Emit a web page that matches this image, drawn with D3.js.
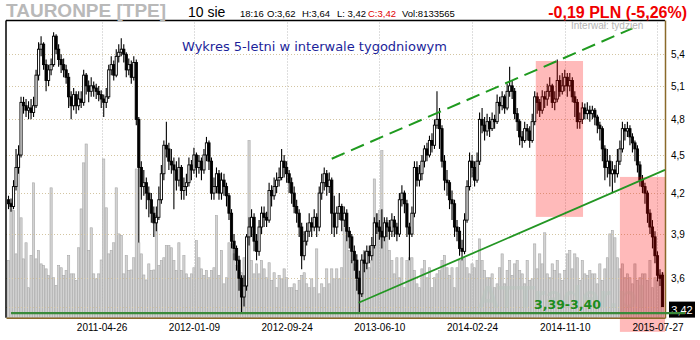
<!DOCTYPE html>
<html>
<head>
<meta charset="utf-8">
<title>TAURONPE [TPE] - wykres tygodniowy</title>
<script src="https://d3js.org/d3.v7.min.js"></script>
<style>
	body { margin: 0; background: #fff; }
	svg { display: block; font-family: "Liberation Sans", Arial, sans-serif; }
	.grid-h { stroke: #d3c5a2; stroke-dasharray: 1,2; }
	.grid-v { stroke: #bcbcbc; stroke-dasharray: 1,2; }
	.axis text { fill: #000; font-size: 10px; font-family: "Liberation Sans", Arial, sans-serif; }
	.axis .domain { stroke: #8a6a2a; stroke-width: 1.5px; }
	.vol { fill: #d3d3d3; stroke: #a8a8a8; stroke-width: 0.6px; }
	.wick { stroke: #000; stroke-width: 1.1px; }
	.body { stroke: #000; stroke-width: 0.9px; }
	.info { font-size: 9.5px; fill: #000; }
</style>
</head>
<body>
<svg id="chart" width="700" height="340"></svg>
<script>
// weekly candles, first one on 2010-08-09
var firstWeek = "2010-08-09";
var xDomain = ["2010-08-02", "2015-08-17"];
var dateTicks = ["2011-04-26", "2012-01-09", "2012-09-24", "2013-06-10", "2014-02-24", "2014-11-10", "2015-07-27"];
var priceTicks = [3.6, 3.9, 4.2, 4.5, 4.8, 5.1, 5.4];
var lastPrice = 3.42;

var opens = [
	4.15,4.12,4.10,4.25,4.40,4.50,4.95,4.92,4.88,4.90,
	4.86,4.92,5.20,5.45,5.50,5.30,5.15,5.25,5.30,5.58,
	5.45,5.35,5.30,5.25,5.18,5.00,4.92,5.02,4.92,4.98,
	4.95,5.20,5.10,5.05,5.10,5.08,5.05,5.02,4.98,4.95,
	5.00,5.25,5.30,5.20,5.38,5.42,5.45,5.40,5.25,5.30,
	5.18,5.32,4.80,4.40,4.25,4.28,4.20,4.15,4.05,3.98,
	4.02,4.15,4.35,4.58,4.55,4.45,4.42,4.38,4.30,4.40,
	4.22,4.25,4.28,4.42,4.38,4.50,4.40,4.45,4.38,4.50,
	4.60,4.45,4.20,4.25,4.35,4.20,4.30,4.25,4.18,4.05,
	3.85,3.80,3.72,3.60,3.48,3.55,3.88,3.95,4.02,3.85,
	3.78,3.95,4.05,4.02,4.00,4.22,4.18,4.25,4.30,4.32,
	4.45,4.40,4.35,4.28,4.20,4.10,4.05,3.95,3.75,3.85,
	3.92,3.98,3.95,4.02,3.95,4.20,4.28,4.35,4.25,4.30,
	4.05,3.95,4.05,4.10,4.00,4.05,3.92,3.88,3.78,3.72,
	3.60,3.50,3.72,3.70,3.78,3.75,3.82,3.98,3.95,3.92,
	3.88,3.98,3.95,3.92,4.00,3.95,3.90,4.15,4.20,4.12,
	3.95,3.90,4.05,4.40,4.30,4.35,4.45,4.55,4.50,4.62,
	4.58,4.75,4.80,4.72,4.45,4.30,4.28,4.15,4.12,3.95,
	3.92,3.80,3.78,4.00,4.25,4.45,4.40,4.30,4.45,4.80,
	4.75,4.70,4.78,4.72,4.80,4.78,4.95,4.92,5.00,4.90,
	5.05,5.10,5.05,4.85,4.78,4.65,4.62,4.72,4.70,4.62,
	4.78,5.00,4.95,4.88,5.00,4.98,5.05,5.10,4.95,4.98,
	5.15,5.05,5.10,5.18,5.10,5.15,5.00,4.95,4.78,4.80,
	4.90,4.85,4.88,4.85,4.88,4.82,4.75,4.72,4.55,4.40,
	4.45,4.35,4.38,4.35,4.45,4.55,4.72,4.70,4.72,4.65,
	4.60,4.55,4.42,4.30,4.25,4.20,4.05,3.95,3.88,3.75,3.62,3.62
];
var highs = [
	4.18,4.16,4.30,4.55,4.58,5.00,5.00,4.98,4.96,4.98,
	5.00,5.25,5.52,5.58,5.52,5.35,5.30,5.36,5.62,5.60,
	5.50,5.40,5.36,5.30,5.22,5.05,5.08,5.05,5.05,5.05,
	5.25,5.22,5.15,5.18,5.14,5.12,5.10,5.06,5.02,5.08,
	5.30,5.38,5.34,5.45,5.50,5.56,5.50,5.42,5.36,5.34,
	5.38,5.35,4.82,4.45,4.38,4.32,4.25,4.20,4.10,4.10,
	4.25,4.42,4.62,4.78,4.60,4.55,4.48,4.45,4.48,4.42,
	4.32,4.35,4.48,4.46,4.56,4.52,4.50,4.48,4.55,4.65,
	4.62,4.48,4.32,4.40,4.38,4.36,4.35,4.28,4.20,4.08,
	3.90,3.82,3.75,3.62,3.62,3.90,4.02,4.08,4.05,3.90,
	4.00,4.10,4.10,4.06,4.28,4.26,4.32,4.36,4.40,4.55,
	4.50,4.45,4.38,4.32,4.25,4.15,4.08,3.98,3.92,3.98,
	4.05,4.02,4.08,4.05,4.25,4.35,4.40,4.38,4.36,4.32,
	4.18,4.10,4.20,4.12,4.10,4.08,3.95,3.90,3.82,3.76,
	3.65,3.76,3.78,3.82,3.82,3.88,4.02,4.05,4.00,4.08,
	4.02,4.02,4.00,4.05,4.03,3.98,4.20,4.26,4.22,4.15,
	3.98,4.10,4.45,4.45,4.42,4.50,4.58,4.60,4.66,4.68,
	4.80,5.05,4.90,4.75,4.50,4.38,4.30,4.22,4.15,4.00,
	3.95,3.86,4.05,4.30,4.52,4.50,4.45,4.52,4.86,4.90,
	4.82,4.85,4.82,4.86,4.84,5.02,5.00,5.05,5.02,5.12,
	5.28,5.15,5.08,4.90,4.80,4.70,4.78,4.76,4.74,4.85,
	5.05,5.04,4.98,5.06,5.05,5.12,5.18,5.12,5.05,5.35,
	5.20,5.22,5.25,5.22,5.22,5.18,5.05,4.98,4.86,4.95,
	4.94,4.95,4.92,4.92,4.90,4.84,4.78,4.74,4.58,4.55,
	4.50,4.45,4.42,4.55,4.62,4.78,4.76,4.78,4.75,4.68,
	4.62,4.58,4.45,4.34,4.28,4.22,4.08,4.00,3.92,3.78,3.66,3.64
];
var lows = [
	4.08,4.06,4.08,4.22,4.35,4.48,4.85,4.82,4.80,4.80,
	4.82,4.90,5.15,5.38,5.25,5.05,5.10,5.20,5.28,5.40,
	5.28,5.22,5.18,5.12,4.90,4.80,4.88,4.85,4.88,4.90,
	4.92,5.02,4.95,5.00,5.00,4.98,4.96,4.90,4.82,4.90,
	4.98,5.20,5.15,5.18,5.32,5.38,5.32,5.18,5.20,5.12,
	5.15,4.75,3.84,4.15,4.18,4.08,4.02,3.98,3.88,3.92,
	4.00,4.12,4.30,4.48,4.38,4.35,4.08,4.22,4.25,4.15,
	4.15,4.18,4.25,4.30,4.35,4.32,4.35,4.30,4.35,4.45,
	4.38,4.15,4.15,4.20,4.15,4.15,4.18,4.10,4.00,3.80,
	3.72,3.65,3.52,3.38,3.42,3.52,3.82,3.88,3.78,3.72,
	3.75,3.90,3.95,3.95,3.98,4.10,4.15,4.20,4.25,4.30,
	4.32,4.28,4.20,4.12,4.05,3.98,3.88,3.66,3.72,3.82,
	3.88,3.88,3.92,3.88,3.92,4.15,4.22,4.18,4.20,3.90,
	3.88,3.90,4.00,3.92,3.95,3.85,3.80,3.70,3.65,3.52,
	3.38,3.48,3.64,3.66,3.70,3.72,3.80,3.90,3.86,3.80,
	3.85,3.88,3.86,3.88,3.88,3.85,3.88,4.10,4.05,3.88,
	3.72,3.88,4.02,4.25,4.25,4.30,4.40,4.45,4.48,4.52,
	4.55,4.72,4.55,4.40,4.22,4.18,4.08,4.00,3.88,3.85,
	3.75,3.72,3.76,3.98,4.22,4.32,4.25,4.28,4.42,4.68,
	4.62,4.66,4.65,4.70,4.72,4.76,4.85,4.88,4.85,4.88,
	5.00,4.98,4.80,4.70,4.58,4.56,4.60,4.62,4.56,4.60,
	4.75,4.85,4.82,4.85,4.90,4.92,5.00,4.90,4.88,4.95,
	5.00,5.02,5.05,5.00,5.05,4.95,4.82,4.72,4.72,4.76,
	4.80,4.80,4.78,4.80,4.75,4.68,4.62,4.45,4.30,4.32,
	4.25,4.20,4.28,4.32,4.42,4.52,4.62,4.65,4.58,4.52,
	4.45,4.36,4.25,4.20,4.12,3.98,3.90,3.80,3.70,3.58,3.55,3.42
];
var closes = [
	4.12,4.10,4.25,4.40,4.50,4.95,4.92,4.88,4.90,4.86,
	4.92,5.20,5.45,5.50,5.30,5.15,5.25,5.30,5.58,5.45,
	5.35,5.30,5.25,5.18,5.00,4.92,5.02,4.92,4.98,4.95,
	5.20,5.10,5.05,5.10,5.08,5.05,5.02,4.98,4.95,5.00,
	5.25,5.30,5.20,5.38,5.42,5.45,5.40,5.25,5.30,5.18,
	5.32,4.80,4.40,4.25,4.28,4.20,4.15,4.05,3.98,4.02,
	4.15,4.35,4.58,4.55,4.45,4.42,4.38,4.30,4.40,4.22,
	4.25,4.28,4.42,4.38,4.50,4.40,4.45,4.38,4.50,4.60,
	4.45,4.20,4.25,4.35,4.20,4.30,4.25,4.18,4.05,3.85,
	3.80,3.72,3.60,3.48,3.55,3.88,3.95,4.02,3.85,3.78,
	3.95,4.05,4.02,4.00,4.22,4.18,4.25,4.30,4.32,4.45,
	4.40,4.35,4.28,4.20,4.10,4.05,3.95,3.75,3.85,3.92,
	3.98,3.95,4.02,3.95,4.20,4.28,4.35,4.25,4.30,4.05,
	3.95,4.05,4.10,4.00,4.05,3.92,3.88,3.78,3.72,3.60,
	3.50,3.72,3.70,3.78,3.75,3.82,3.98,3.95,3.92,3.88,
	3.98,3.95,3.92,4.00,3.95,3.90,4.15,4.20,4.12,3.95,
	3.90,4.05,4.40,4.30,4.35,4.45,4.55,4.50,4.62,4.58,
	4.75,4.80,4.72,4.45,4.30,4.28,4.15,4.12,3.95,3.92,
	3.80,3.78,4.00,4.25,4.45,4.40,4.30,4.45,4.80,4.75,
	4.70,4.78,4.72,4.80,4.78,4.95,4.92,5.00,4.90,5.05,
	5.10,5.05,4.85,4.78,4.65,4.62,4.72,4.70,4.62,4.78,
	5.00,4.95,4.88,5.00,4.98,5.05,5.10,4.95,4.98,5.15,
	5.05,5.10,5.18,5.10,5.15,5.00,4.95,4.78,4.80,4.90,
	4.85,4.88,4.85,4.88,4.82,4.75,4.72,4.55,4.40,4.45,
	4.35,4.38,4.35,4.45,4.55,4.72,4.70,4.72,4.65,4.60,
	4.55,4.42,4.30,4.25,4.20,4.05,3.95,3.88,3.75,3.62,3.60,3.42
];
// weekly volume, millions of shares
var volumes = [
	10.3,20.7,19.3,11.5,29.5,18.0,10.6,13.5,5.4,11.2,
	24.3,10.6,12.1,9.7,9.4,8.8,7.6,23.4,7.2,5.8,
	9.4,9.0,7.6,8.5,11.2,7.9,7.9,6.7,12.6,19.6,
	27.9,31.3,12.1,16.2,7.9,7.0,7.9,10.4,28.6,19.8,
	11.5,12.1,13.5,23.4,15.1,14.8,7.9,11.2,8.5,8.6,
	10.8,26.8,13.5,11.5,7.7,6.8,9.7,8.5,8.6,18.4,
	9.4,10.3,10.8,13.0,13.0,12.6,10.3,8.5,13.5,8.5,
	11.2,7.9,7.2,7.9,9.0,13.9,10.8,8.8,7.6,8.5,
	7.2,8.5,9.0,18.4,7.6,12.1,6.1,7.2,13.5,13.3,
	11.5,9.4,8.5,8.1,10.8,12.1,31.9,10.3,7.9,9.7,
	7.9,10.3,8.8,7.2,9.9,6.7,8.1,5.4,7.6,7.0,
	8.8,7.2,5.4,5.4,6.1,4.9,6.7,7.6,8.1,6.1,
	5.4,7.0,5.4,12.4,4.3,6.1,5.4,8.8,6.1,8.8,
	7.0,8.8,7.0,9.0,16.2,15.7,12.1,10.3,9.7,6.7,
	7.2,7.9,12.1,11.5,9.0,10.3,25.0,18.7,19.3,30.1,
	16.2,17.5,12.1,10.3,7.9,10.8,7.2,10.8,5.4,10.3,
	10.8,10.8,8.5,6.1,5.4,8.8,10.3,7.2,9.0,5.4,
	7.2,7.9,8.5,10.3,11.2,9.0,7.6,9.0,5.4,9.0,
	10.3,10.3,10.8,9.0,7.9,9.7,9.0,10.3,14.2,10.3,
	8.5,7.2,7.2,7.9,5.4,6.1,9.0,11.5,6.1,8.5,
	10.3,7.6,9.7,10.3,8.5,7.9,6.1,10.3,6.7,7.0,
	13.3,8.8,11.5,9.7,15.3,7.9,7.2,9.7,8.5,10.3,
	7.9,6.7,8.5,11.5,12.1,8.8,11.5,10.8,6.7,10.3,
	7.9,7.6,8.5,7.9,7.9,6.1,9.7,6.7,8.8,10.8,
	15.1,15.7,14.4,10.8,8.8,9.7,7.2,7.9,7.2,6.1,
	9.7,6.7,7.2,7.9,7.9,6.7,10.3,5.4,7.2,6.7,7.9,8.1
];

// drawn annotations, in date / price terms
var channelUpper = [["2013-01-28", 4.47], ["2015-05-18", 5.66]];
var channelLower = [["2013-04-13", 3.444], ["2015-08-17", 4.38]];
var supportLevel = [["2010-08-16", 3.38], ["2015-10-12", 3.38]];
var zones = [
	{from: "2014-08-21", to: "2014-12-31", hi: 5.335, lo: 4.023},
	{from: "2015-04-13", to: "2015-08-17", hi: 4.325, lo: 3.267}
];
// header quote line: [text, x, colour]
var quoteParts = [
	["18:16", 240, "#000"], ["O:3,62", 267, "#000"], ["H:3,64", 302, "#000"],
	["L: 3,42", 337, "#000"], ["C:3,42", 368, "#e00000"], ["Vol:8133565", 402, "#000"]
];

(function () {
	var parse = d3.timeParse("%Y-%m-%d"),
		_left = 6, _right = 665, _top = 20.5, _bottom = 317.7,
		_svg = d3.select('#chart'),
		_x = d3.scaleTime().domain(xDomain.map(parse)).range([_left, _right]),
		_y = d3.scaleLog().domain([3.352, 5.746]).range([_bottom, 20]),
		_yVol = d3.scaleLinear().domain([0, 40]).range([_bottom, _bottom - 222]),
		_start = parse(firstWeek),
		_commaFmt = function (d) { return d3.format('.1f')(d).replace('.', ','); };

	var _data = closes.map(function (c, i) {
		return {date: d3.timeDay.offset(_start, 7 * i), o: opens[i], h: highs[i], l: lows[i], c: c, v: volumes[i]};
	});

	_svg.append('rect').attr('width', 700).attr('height', 340).attr('fill', '#fff');

	// volume bars
	_svg.append('g').selectAll('rect')
		.data(_data).enter().append('rect')
			.attr('class', 'vol')
			.attr('x', function (d) { return _x(d.date) - 1.1; })
			.attr('width', 2.2)
			.attr('y', function (d) { return _yVol(d.v); })
			.attr('height', function (d) { return _bottom - _yVol(d.v); });

	// grid
	var grid = _svg.append('g');
	grid.selectAll('.grid-h')
		.data(priceTicks.concat([lastPrice])).enter().append('line')
			.attr('class', 'grid-h')
			.attr('x1', _left).attr('x2', _right)
			.attr('y1', function (d) { return Math.round(_y(d)) + 0.5; })
			.attr('y2', function (d) { return Math.round(_y(d)) + 0.5; });
	grid.selectAll('.grid-v')
		.data(dateTicks.map(parse)).enter().append('line')
			.attr('class', 'grid-v')
			.attr('y1', _top + 2).attr('y2', _bottom)
			.attr('x1', function (d) { return Math.round(_x(d)) + 0.5; })
			.attr('x2', function (d) { return Math.round(_x(d)) + 0.5; });

	// watermark
	_svg.append('text')
		.attr('x', 477).attr('y', 308)
		.attr('font-size', '31px').attr('font-weight', 'bold')
		.attr('fill', '#b9c6bf').attr('fill-opacity', 0.55)
		.text('ATTrader.pl');

	// candles
	var candles = _svg.append('g').selectAll('g')
		.data(_data).enter().append('g');
	candles.append('line')
		.attr('class', 'wick')
		.attr('x1', function (d) { return _x(d.date); })
		.attr('x2', function (d) { return _x(d.date); })
		.attr('y1', function (d) { return _y(d.h); })
		.attr('y2', function (d) { return _y(d.l); });
	candles.append('rect')
		.attr('class', 'body')
		.attr('x', function (d) { return _x(d.date) - 1.1; })
		.attr('width', 2.2)
		.attr('y', function (d) { return _y(Math.max(d.o, d.c)); })
		.attr('height', function (d) { return Math.max(0.8, Math.abs(_y(d.o) - _y(d.c))); })
		.attr('fill', function (d) { return d.c >= d.o ? '#fff' : '#000'; });

	// highlighted zones
	_svg.append('g').selectAll('rect')
		.data(zones).enter().append('rect')
			.attr('x', function (d) { return _x(parse(d.from)); })
			.attr('width', function (d) { return _x(parse(d.to)) - _x(parse(d.from)); })
			.attr('y', function (d) { return _y(d.hi); })
			.attr('height', function (d) { return _y(d.lo) - _y(d.hi); })
			.attr('fill', '#ff0000').attr('fill-opacity', 0.27);

	// frame: top and left
	_svg.append('line').attr('x1', _left).attr('x2', _right).attr('y1', _top).attr('y2', _top)
		.attr('stroke', '#000').attr('stroke-width', 1.3);
	_svg.append('line').attr('x1', _left).attr('x2', _left).attr('y1', _top).attr('y2', _bottom)
		.attr('stroke', '#000').attr('stroke-width', 1.5);

	// axes
	_svg.append('g')
		.attr('class', 'y axis')
		.attr('transform', 'translate(' + _right + ',0)')
		.call(d3.axisRight(_y).tickValues(priceTicks).tickFormat(_commaFmt).tickSize(0).tickPadding(6));
	_svg.append('g')
		.attr('class', 'x axis')
		.attr('transform', 'translate(0,' + _bottom + ')')
		.call(d3.axisBottom(_x).tickValues(dateTicks.map(parse)).tickFormat(d3.timeFormat('%Y-%m-%d')).tickSize(0).tickPadding(6));

	// last price box
	_svg.append('rect')
		.attr('x', 669).attr('y', _y(lastPrice) - 5)
		.attr('width', 26).attr('height', 16)
		.attr('fill', '#000');
	_svg.append('text')
		.attr('x', 682).attr('y', _y(lastPrice) + 7)
		.attr('text-anchor', 'middle')
		.attr('font-size', '11px').attr('fill', '#fff')
		.text(d3.format('.2f')(lastPrice).replace('.', ','));

	// trend lines
	var line = d3.line()
		.x(function (d) { return _x(parse(d[0])); })
		.y(function (d) { return _y(d[1]); });
	_svg.append('path').attr('d', line(channelUpper))
		.attr('fill', 'none').attr('stroke', '#1f9a1f').attr('stroke-width', 2)
		.attr('stroke-dasharray', '14,7');
	_svg.append('path').attr('d', line(channelLower))
		.attr('fill', 'none').attr('stroke', '#239623').attr('stroke-width', 1.8);
	_svg.append('path').attr('d', line(supportLevel))
		.attr('fill', 'none').attr('stroke', '#3a8a3a').attr('stroke-width', 2.2);

	_svg.append('text')
		.attr('x', 534).attr('y', 308.5)
		.attr('font-family', '"DejaVu Sans", Verdana, sans-serif')
		.attr('font-size', '12.5px').attr('font-weight', 'bold')
		.attr('fill', '#1d8c1d')
		.text('3,39-3,40');

	// header
	_svg.append('text')
		.attr('x', 6).attr('y', 17)
		.attr('font-size', '19px').attr('font-weight', 'bold')
		.attr('fill', '#b9b9b9')
		.text('TAURONPE [TPE]');
	_svg.append('text')
		.attr('x', 188).attr('y', 17)
		.attr('font-size', '14px').attr('fill', '#000')
		.text('10 sie');
	_svg.append('g').selectAll('text')
		.data(quoteParts).enter().append('text')
			.attr('class', 'info')
			.attr('x', function (d) { return d[1]; })
			.attr('y', 17.3)
			.style('fill', function (d) { return d[2]; })
			.text(function (d) { return d[0]; });
	_svg.append('text')
		.attr('x', 687).attr('y', 18)
		.attr('text-anchor', 'end')
		.attr('font-size', '16px').attr('font-weight', 'bold')
		.attr('fill', '#f00000')
		.text('-0,19 PLN (-5,26%)');
	_svg.append('text')
		.attr('x', 571).attr('y', 29)
		.attr('font-size', '10px').attr('fill', '#b4b4b4')
		.text('Interwał: tydzień');
	_svg.append('text')
		.attr('x', 182).attr('y', 50.5)
		.attr('font-family', '"DejaVu Sans", Verdana, sans-serif')
		.attr('font-size', '13px').attr('fill', '#1c1f9a')
		.text('Wykres 5-letni w interwale tygodniowym');
}());
</script>
</body>
</html>
